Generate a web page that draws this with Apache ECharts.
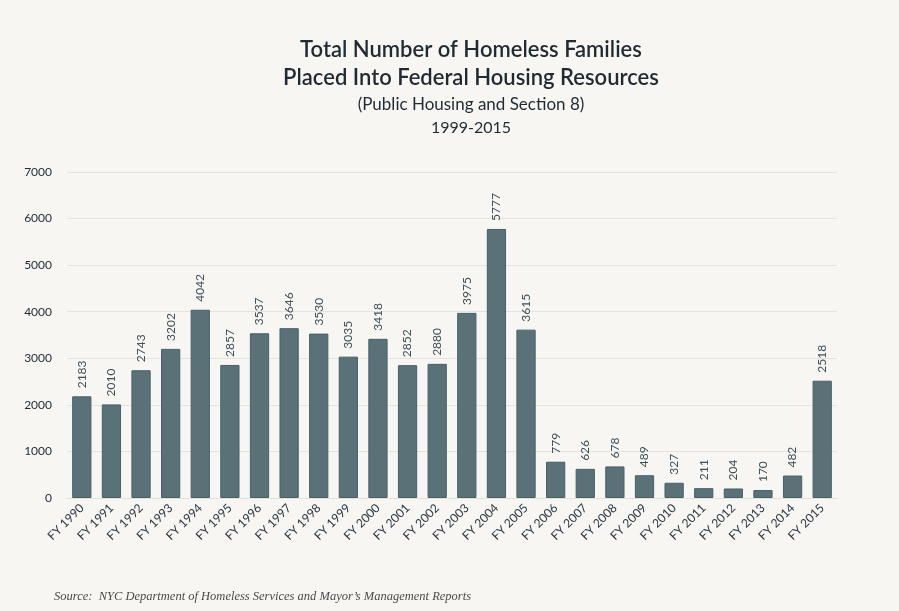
<!DOCTYPE html>
<html><head><meta charset="utf-8">
<script src="https://cdn.jsdelivr.net/npm/echarts@6/dist/echarts.min.js"></script>
<style>html,body{margin:0;padding:0;background:#f7f6f2;}#c{width:899px;height:611px;}</style>
</head><body><div id="c"></div>
<script>
const categories = ['FY 1990','FY 1991','FY 1992','FY 1993','FY 1994','FY 1995','FY 1996','FY 1997','FY 1998','FY 1999','FY 2000','FY 2001','FY 2002','FY 2003','FY 2004','FY 2005','FY 2006','FY 2007','FY 2008','FY 2009','FY 2010','FY 2011','FY 2012','FY 2013','FY 2014','FY 2015'];
const families = [2183,2010,2743,3202,4042,2857,3537,3646,3530,3035,3418,2852,2880,3975,5777,3615,779,626,678,489,327,211,204,170,482,2518];
const yTicks = {min:0, max:7000, interval:1000};
const titleLines = ['Total Number of Homeless Families','Placed Into Federal Housing Resources','(Public Housing and Section 8)','1999-2015'];
const sourceText = 'Source:  NYC Department of Homeless Services and Mayor\u2019s Management Reports';

const chart = echarts.init(document.getElementById('c'));
const ff = 'Lato, "Noto Sans", sans-serif';
chart.setOption({
  backgroundColor:'#f7f6f2',
  title:[
    {text:titleLines[0], left:466, top:34, textAlign:'center', textStyle:{fontFamily:ff, fontSize:22, fontWeight:600, color:'#1f2a33'}},
    {text:titleLines[1], left:466, top:62, textAlign:'center', textStyle:{fontFamily:ff, fontSize:22, fontWeight:600, color:'#1f2a33'}},
    {text:titleLines[2], left:466, top:91, textAlign:'center', textStyle:{fontFamily:ff, fontSize:17, fontWeight:'normal', color:'#1f2a33'}},
    {text:titleLines[3], left:466, top:115, textAlign:'center', textStyle:{fontFamily:ff, fontSize:16, fontWeight:'normal', color:'#1f2a33'}},
    {text:sourceText, left:49, top:585, textStyle:{fontFamily:'"Liberation Serif", serif', fontStyle:'italic', fontSize:12.5, fontWeight:'normal', color:'#4a4a4a'}}
  ],
  grid:{left:67, right:62, top:172, bottom:113},
  xAxis:{type:'category', data:categories,
    axisLine:{lineStyle:{color:'#e2e1dc'}}, axisTick:{show:false},
    axisLabel:{rotate:45, fontFamily:ff, fontSize:12, color:'#2a3540', margin:8, interval:0}},
  yAxis:{type:'value', min:yTicks.min, max:yTicks.max, interval:yTicks.interval,
    axisLine:{show:false}, axisTick:{show:false},
    splitLine:{lineStyle:{color:'#e4e3de'}},
    axisLabel:{fontFamily:ff, fontSize:12, color:'#1f2a33', margin:15, formatter:v=>String(v)}},
  series:[{type:'bar', data:families, barWidth:'65%',
    itemStyle:{color:'#5b7178', borderColor:'#46606a', borderWidth:1},
    label:{show:true, position:'top', rotate:90, align:'left', verticalAlign:'middle', distance:8,
      fontFamily:ff, fontSize:12, color:'#3d4f57'}}]
});
</script></body></html>
